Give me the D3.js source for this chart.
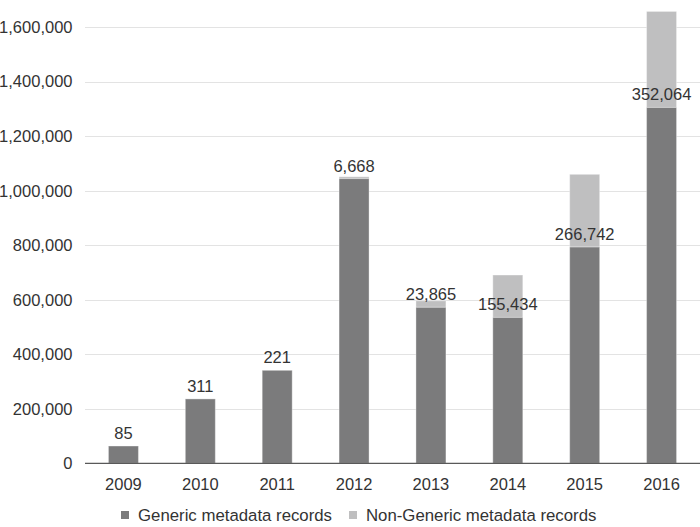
<!DOCTYPE html>
<meta charset="utf-8" />
<style>
  body {
    margin: 0;
    background: #fff;
    font: 16px "Liberation Sans", Arial, sans-serif;
  }

  .grid line {
    stroke: #e3e3e3;
    stroke-width: 1;
    shape-rendering: crispEdges;
  }

  .grid path {
    display: none;
  }

  .label {
    fill: #333;
    font-size: 16.5px;
  }

  .legend {
    fill: #333;
    font-size: 16.8px;
  }
</style>
<body>
  <script src="https://d3js.org/d3.v7.min.js"></script>

  <script>
    // data
    var years = ["2009", "2010", "2011", "2012", "2013", "2014", "2015", "2016"];
    var generic = [63400, 236000, 341000, 1044000, 572000, 535000, 793000, 1305000];
    var nonGeneric = [85, 311, 221, 6668, 23865, 155434, 266742, 352064];
    var yTicks = [0, 200000, 400000, 600000, 800000, 1000000, 1200000, 1400000, 1600000];
    var seriesNames = ["Generic metadata records", "Non-Generic metadata records"];
    var colors = ["#7b7b7c", "#bfbfc0"];

    var width = 700,
      height = 527;

    var svg = d3
      .select("body")
      .append("svg")
      .attr("width", width)
      .attr("height", height);

    var x = d3
      .scaleBand()
      .domain(years)
      .range([85, 700])
      .paddingInner(0.61)
      .paddingOuter(0.305);

    var y = d3.scaleLinear().domain([0, 1600000]).range([463.3, 27]);

    var fmt = d3.format(",");

    // gridlines
    svg
      .append("g")
      .attr("class", "grid")
      .attr("transform", "translate(85,0)")
      .call(d3.axisLeft(y).tickValues(yTicks).tickSize(-615).tickFormat(""));

    // y tick labels
    svg
      .selectAll(".ylab")
      .data(yTicks)
      .enter()
      .append("text")
      .attr("class", "label")
      .attr("x", 72.5)
      .attr("y", function (d) {
        return y(d);
      })
      .attr("dy", "0.36em")
      .style("text-anchor", "end")
      .text(function (d) {
        return fmt(d);
      });

    // stacked bars
    var rows = years.map(function (yr, i) {
      return { year: yr, g: generic[i], n: nonGeneric[i] };
    });

    var bars = svg.selectAll(".bar").data(rows).enter().append("g");

    bars
      .append("rect")
      .attr("x", function (d) {
        return x(d.year);
      })
      .attr("width", x.bandwidth())
      .attr("y", function (d) {
        return y(d.g + d.n);
      })
      .attr("height", function (d) {
        return y(d.g) - y(d.g + d.n);
      })
      .style("fill", colors[1])
      .style("stroke", "#fff")
      .style("stroke-opacity", 0.35);

    bars
      .append("rect")
      .attr("x", function (d) {
        return x(d.year);
      })
      .attr("width", x.bandwidth())
      .attr("y", function (d) {
        return y(d.g);
      })
      .attr("height", function (d) {
        return y(0) - y(d.g);
      })
      .style("fill", colors[0])
      .style("stroke", "#fff")
      .style("stroke-opacity", 0.35);

    // non-generic counts, sitting on top of the generic part
    bars
      .append("text")
      .attr("class", "label")
      .attr("x", function (d) {
        return x(d.year) + x.bandwidth() / 2;
      })
      .attr("y", function (d) {
        return y(d.g) - 7;
      })
      .style("text-anchor", "middle")
      .text(function (d) {
        return fmt(d.n);
      });

    // baseline
    svg
      .append("line")
      .attr("x1", 85)
      .attr("x2", 700)
      .attr("y1", y(0))
      .attr("y2", y(0))
      .style("stroke", "#595959")
      .style("stroke-width", 1.2);

    // x labels
    svg
      .selectAll(".xlab")
      .data(years)
      .enter()
      .append("text")
      .attr("class", "label")
      .attr("x", function (d) {
        return x(d) + x.bandwidth() / 2;
      })
      .attr("y", 489.5)
      .style("text-anchor", "middle")
      .text(function (d) {
        return d;
      });

    // legend
    var legendX = [121, 349];
    seriesNames.forEach(function (name, i) {
      svg
        .append("rect")
        .attr("x", legendX[i])
        .attr("y", 511)
        .attr("width", 8)
        .attr("height", 8)
        .style("fill", colors[i]);
      svg
        .append("text")
        .attr("class", "legend")
        .attr("x", legendX[i] + 17)
        .attr("y", 520.5)
        .text(name);
    });
  </script>
</body>
